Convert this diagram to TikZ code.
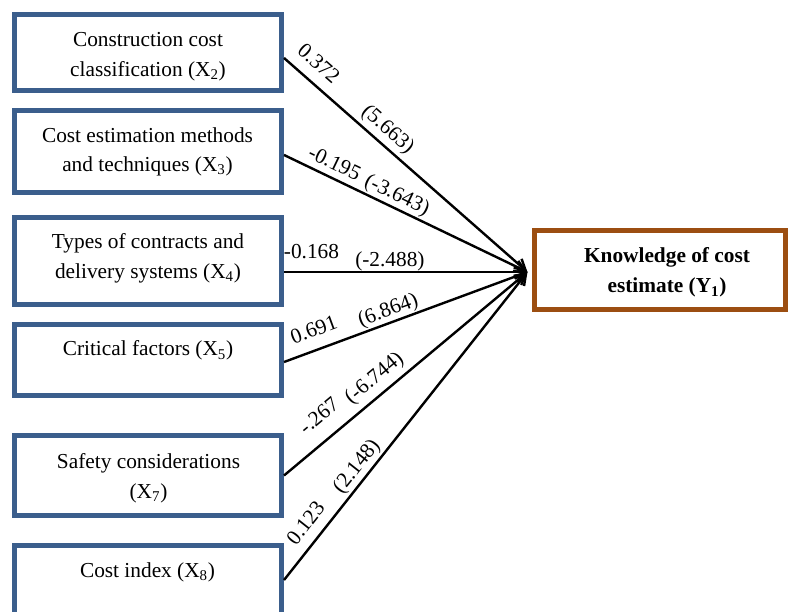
\documentclass[tikz,border=0pt]{standalone}
\usepackage{fontspec}
\setmainfont{Liberation Serif}
\usetikzlibrary{arrows.meta}
\definecolor{boxblue}{RGB}{59,94,140}
\definecolor{boxbrown}{RGB}{156,78,17}
\begin{document}
\begin{tikzpicture}[x=0.75pt,y=-0.75pt,
  inbox/.style={draw=boxblue,line width=3.75pt,minimum width=200.25pt,inner sep=0pt},
  outbox/.style={draw=boxbrown,line width=3.75pt,minimum width=188.25pt,minimum height=59.25pt,inner sep=0pt},
  boxtext/.style={font=\fontsize{16}{22}\selectfont,align=center,anchor=north,inner sep=0pt},
  conn/.style={line width=1.8pt,-{Straight Barb[length=8pt,width=9pt,line width=1.8pt]}},
  lab/.style={font=\fontsize{16}{19}\selectfont,sloped,inner sep=0pt,text height=11pt,text depth=3.5pt}]
\useasboundingbox (0,0) rectangle (788,611);

% predictor boxes
\node[inbox,minimum height=57pt]    (b1) at (148,52.5)  {};
\node[inbox,minimum height=61.5pt]  (b2) at (148,151.5) {};
\node[inbox,minimum height=65.25pt] (b3) at (148,261)   {};
\node[inbox,minimum height=53.25pt] (b4) at (148,360)   {};
\node[inbox,minimum height=60pt]    (b5) at (148,475.5) {};
\node[inbox,minimum height=60pt]    (b6) at (148,585.5) {};

% outcome box
\node[outbox] (y) at (660,270) {};

% box texts
\node[boxtext] (t1) at (148,32.4)   {Construction cost\\classification (X\textsubscript{2})};
\node[boxtext] (t2) at (147.5,127.1) {Cost estimation methods\\and techniques (X\textsubscript{3})};
\node[boxtext] (t3) at (148,233.4)  {Types of contracts and\\delivery systems (X\textsubscript{4})};
\node[boxtext] (t4) at (148,340.4)  {Critical factors (X\textsubscript{5})};
\node[boxtext] (t5) at (148.5,453.4) {Safety considerations\\(X\textsubscript{7})};
\node[boxtext] (t6) at (147.5,562.4) {Cost index (X\textsubscript{8})};
\node[boxtext,font=\fontsize{16}{22.5}\selectfont\bfseries] (ty) at (667,247.4) {Knowledge of cost\\estimate (Y\textsubscript{1})};

% common arrow target
\coordinate (hub) at ([xshift=-3.4pt,yshift=-1.5pt]y.west);

% paths with coefficients and t-values
\draw[conn] ([yshift=-4.1pt]b1.east) --
  node[lab,pos=.092,above=4.7pt] (c1) {0.372}
  node[lab,pos=.386,above=2.5pt] (v1) {(5.663)} (hub);
\draw[conn] ([yshift=-2.6pt]b2.east) --
  node[lab,pos=.182,above=1.6pt] (c2) {-0.195}
  node[lab,pos=.441,above=1pt] (v2) {(-3.643)} (hub);
\draw[conn] ([yshift=-8.25pt]b3.east) --
  node[lab,pos=.113,above=5.4pt] (c3) {-0.168}
  node[lab,pos=.435,above=0pt] (v3) {(-2.488)} (hub);
\draw[conn] ([yshift=-1.5pt]b4.east) --
  node[lab,pos=.151,above=5.4pt] (c4) {0.691}
  node[lab,pos=.445,above=0.5pt] (v4) {(6.864)} (hub);
\draw[conn] (b5.east) --
  node[lab,pos=.205,above=8.2pt] (c5) {-.267}
  node[lab,pos=.415,above=3.8pt] (v5) {(-6.744)} (hub);
\draw[conn] ([yshift=4.1pt]b6.east) --
  node[lab,pos=.148,above=4.3pt] (c6) {0.123}
  node[lab,pos=.342,above=1.4pt] (v6) {(2.148)} (hub);
\end{tikzpicture}
\end{document}
